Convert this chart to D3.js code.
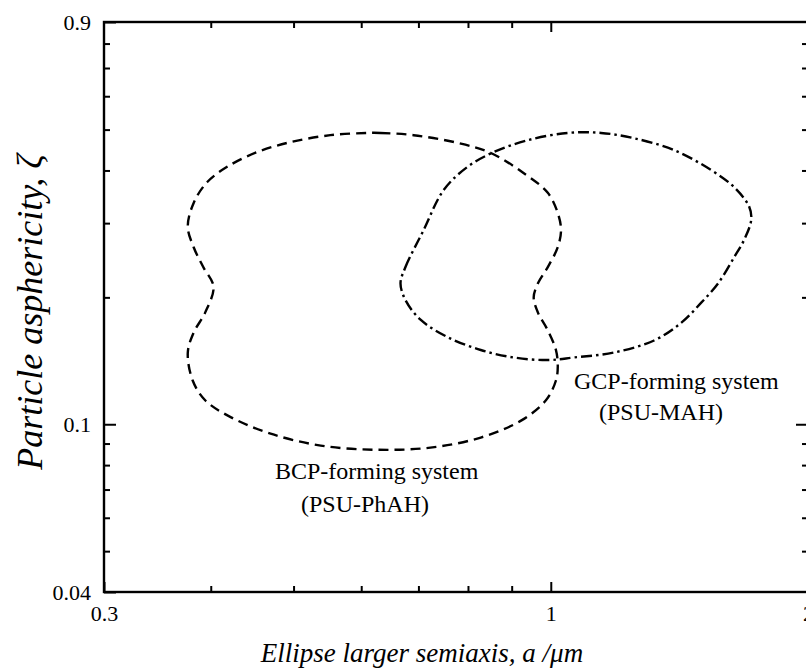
<!DOCTYPE html>
<html>
<head>
<meta charset="utf-8">
<script src="https://cdn.jsdelivr.net/npm/d3@7"></script>
<style>
  body { margin: 0; background: #fff; }
  svg { display: block; }
  text { font-family: "Liberation Serif", "Times New Roman", Times, "DejaVu Serif", serif; fill: #000; }
</style>
</head>
<body>
<div id="chart"></div>
<script>
// contour of the BCP-forming system (PSU-PhAH), a in um, zeta
var bcpA = [0.610, 0.632, 0.691, 0.778, 0.851, 0.930, 0.992, 1.019, 1.028, 1.019, 0.992, 0.966,
  0.955, 0.966, 0.992, 1.014, 1.019, 1.014, 0.987, 0.923, 0.828, 0.723, 0.624, 0.538, 0.470,
  0.422, 0.394, 0.381, 0.376, 0.382, 0.394, 0.403, 0.392, 0.382, 0.376, 0.382, 0.396, 0.418,
  0.453, 0.496, 0.552];
var bcpZ = [0.491, 0.491, 0.485, 0.465, 0.440, 0.394, 0.354, 0.317, 0.289, 0.263, 0.236, 0.216,
  0.200, 0.184, 0.167, 0.150, 0.137, 0.127, 0.114, 0.102, 0.093, 0.088, 0.087, 0.089, 0.095,
  0.104, 0.114, 0.127, 0.148, 0.165, 0.184, 0.212, 0.236, 0.263, 0.294, 0.335, 0.375, 0.408,
  0.442, 0.467, 0.485];

// contour of the GCP-forming system (PSU-MAH)
var gcpA = [0.667, 0.676, 0.710, 0.749, 0.799, 0.857, 0.940, 1.047, 1.145, 1.251, 1.394, 1.540,
  1.639, 1.707, 1.716, 1.684, 1.639, 1.570, 1.499, 1.421, 1.321, 1.186, 1.064, 0.992, 0.905,
  0.828, 0.757, 0.704, 0.676];
var gcpZ = [0.216, 0.236, 0.289, 0.359, 0.408, 0.442, 0.472, 0.491, 0.491, 0.477, 0.447, 0.401,
  0.365, 0.328, 0.305, 0.274, 0.249, 0.216, 0.194, 0.174, 0.158, 0.148, 0.144, 0.142, 0.144,
  0.150, 0.161, 0.177, 0.197];

var xMinor = [0.4, 0.5, 0.6, 0.7, 0.8, 0.9];
var xLabels = [0.3, 1, 2];
var yMinor = [0.05, 0.06, 0.07, 0.08, 0.09, 0.2, 0.3, 0.4, 0.5, 0.6, 0.7, 0.8];
var yLabels = [0.04, 0.1, 0.9];

var svgWidth = 806;
var svgHeight = 668;
var margin = { top: 22, right: -2, bottom: 76, left: 104 };
var chartWidth = svgWidth - margin.left - margin.right;
var chartHeight = svgHeight - margin.top - margin.bottom;

var serif = '"Liberation Serif", "Times New Roman", Times, "DejaVu Serif", serif';

var svg = d3.select("#chart")
  .append("svg")
  .attr("width", svgWidth)
  .attr("height", svgHeight);

var chartGroup = svg.append("g")
  .attr("transform", `translate(${margin.left}, ${margin.top})`);

var xScale = d3.scaleLog().domain([0.3, 2]).range([0, chartWidth]);
var yScale = d3.scaleLog().domain([0.04, 0.9]).range([chartHeight, 0]);

var fmt = d => String(d);

// bottom + top
chartGroup.append("g")
  .attr("transform", `translate(0, ${chartHeight})`)
  .call(d3.axisBottom(xScale).tickValues(xMinor).tickSize(-6).tickFormat(""));
chartGroup.append("g")
  .attr("transform", `translate(0, ${chartHeight})`)
  .call(d3.axisBottom(xScale).tickValues(xLabels).tickSize(-10).tickPadding(13).tickFormat(fmt));
chartGroup.append("g")
  .call(d3.axisTop(xScale).tickValues(xMinor).tickSize(-6).tickFormat(""));
chartGroup.append("g")
  .call(d3.axisTop(xScale).tickValues([1]).tickSize(-10).tickFormat(""));

// left + right
chartGroup.append("g")
  .call(d3.axisLeft(yScale).tickValues(yMinor).tickSize(-6).tickFormat(""));
chartGroup.append("g")
  .call(d3.axisLeft(yScale).tickValues(yLabels).tickSize(-12).tickPadding(13).tickFormat(fmt));
chartGroup.append("g")
  .attr("transform", `translate(${chartWidth}, 0)`)
  .call(d3.axisRight(yScale).tickValues(yMinor).tickSize(-6).tickFormat(""));
chartGroup.append("g")
  .attr("transform", `translate(${chartWidth}, 0)`)
  .call(d3.axisRight(yScale).tickValues([0.1]).tickSize(-12).tickFormat(""));

chartGroup.selectAll(".domain").remove();
chartGroup.selectAll(".tick line").attr("stroke", "#000").attr("stroke-width", 2);
chartGroup.selectAll(".tick text")
  .attr("font-family", serif)
  .attr("font-size", 22)
  .attr("fill", "#000");

// frame
chartGroup.append("rect")
  .attr("width", chartWidth)
  .attr("height", chartHeight)
  .attr("fill", "none")
  .attr("stroke", "#000")
  .attr("stroke-width", 2.4);

var line = d3.line()
  .x(d => xScale(d[0]))
  .y(d => yScale(d[1]))
  .curve(d3.curveCatmullRomClosed.alpha(0.5));

chartGroup.append("path")
  .datum(d3.zip(bcpA, bcpZ))
  .attr("d", line)
  .attr("fill", "none")
  .attr("stroke", "#000")
  .attr("stroke-width", 2.4)
  .attr("stroke-dasharray", "10,6");

chartGroup.append("path")
  .datum(d3.zip(gcpA, gcpZ))
  .attr("d", line)
  .attr("fill", "none")
  .attr("stroke", "#000")
  .attr("stroke-width", 2.4)
  .attr("stroke-dasharray", "11,4,2.5,4");

// annotations
svg.append("text").attr("x", 275).attr("y", 479).attr("font-size", 24)
  .attr("font-family", serif).text("BCP-forming system");
svg.append("text").attr("x", 301).attr("y", 512).attr("font-size", 24)
  .attr("font-family", serif).text("(PSU-PhAH)");
svg.append("text").attr("x", 574).attr("y", 389).attr("font-size", 24)
  .attr("font-family", serif).text("GCP-forming system");
svg.append("text").attr("x", 599).attr("y", 420).attr("font-size", 24)
  .attr("font-family", serif).text("(PSU-MAH)");

// axis titles
svg.append("text")
  .attr("x", 422).attr("y", 662)
  .attr("text-anchor", "middle")
  .attr("font-family", serif)
  .attr("font-size", 27)
  .attr("font-style", "italic")
  .text("Ellipse larger semiaxis, a /\u03bcm");

svg.append("text")
  .attr("transform", "translate(42, 312) rotate(-90)")
  .attr("text-anchor", "middle")
  .attr("font-family", serif)
  .attr("font-size", 36)
  .attr("font-style", "italic")
  .text("Particle asphericity, \u03b6");
</script>
</body>
</html>
